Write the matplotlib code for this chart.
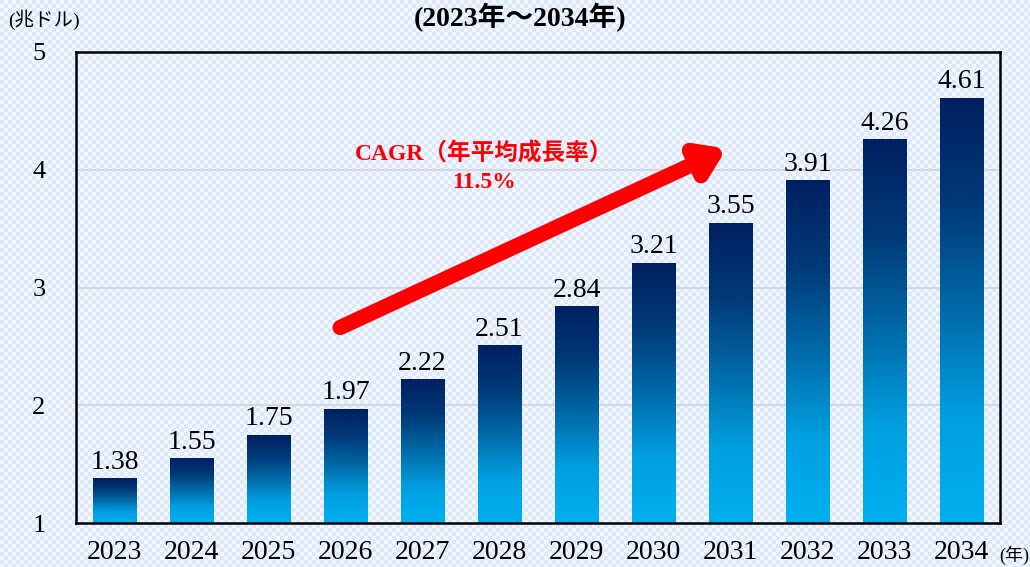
import numpy as np
import matplotlib.pyplot as plt
from matplotlib.colors import LinearSegmentedColormap

years = ["2023", "2024", "2025", "2026", "2027", "2028",
         "2029", "2030", "2031", "2032", "2033", "2034"]
values = [1.38, 1.55, 1.75, 1.97, 2.22, 2.51, 2.84, 3.21, 3.55, 3.91, 4.26, 4.61]
title = "(2023年～2034年)"
unit_label = "(兆ドル)"
year_label = "(年)"
cagr_text = "CAGR（年平均成長率）\n11.5%"

SERIF = ["Liberation Serif", "Noto Sans CJK JP"]
plt.rcParams["font.family"] = SERIF

fig = plt.figure(figsize=(10.3, 5.67), dpi=100)
W, H = 1030, 567

# checkered background over the whole figure
bg_ax = fig.add_axes([0, 0, 1, 1], zorder=0)
yy, xx = np.mgrid[0:H, 0:W]
check = ((xx // 4) + (yy // 4)) % 2
bg = np.empty((H, W, 3))
bg[check == 0] = [0.86, 0.91, 0.99]
bg[check == 1] = [0.95, 0.97, 1.0]
bg_ax.imshow(bg, aspect="auto", interpolation="nearest")
bg_ax.axis("off")

ax = fig.add_axes([76 / W, 1 - 523 / H, 924 / W, 471 / H], zorder=1)
ax.patch.set_alpha(0)
ax.set_yticks([1, 2, 3, 4, 5])
ax.set_xticks(range(len(years)))
ax.set_xticklabels(years)
ax.tick_params(axis="x", length=0, labelsize=20, pad=12)
ax.tick_params(axis="y", length=0, labelsize=19, pad=22)
for s in ax.spines.values():
    s.set_linewidth(1.8)
    s.set_color("black")
for yv in [2, 3, 4]:
    ax.axhline(yv, color="#d4d8de", lw=1.5, zorder=1)

cmap = LinearSegmentedColormap.from_list(
    "bar", ["#00b0f0", "#009fe0", "#006aa8", "#003a78", "#002060"])
grad = np.linspace(0, 1, 256).reshape(-1, 1)
width = 0.57
bars = ax.bar(range(len(years)), [v - 1 for v in values], bottom=1,
              width=width, color="none", zorder=2)
for bar, v in zip(bars, values):
    x0 = bar.get_x()
    im = ax.imshow(grad, cmap=cmap, aspect="auto", origin="lower",
                   extent=[x0, x0 + width, 1, v], zorder=2)
    im.set_clip_path(bar)
    ax.text(bar.get_x() + width / 2, v + 0.03, f"{v:.2f}",
            ha="center", va="bottom", fontsize=20, zorder=3)
ax.set_xlim(-0.5, len(years) - 0.5)
ax.set_ylim(1, 5)

ax.annotate("", xy=(7.95, 4.18), xytext=(2.93, 2.66),
            arrowprops=dict(arrowstyle="-|>,head_length=1.5,head_width=1.0",
                            color="#ff0000", lw=11, shrinkA=0, shrinkB=0),
            zorder=4)
ax.text(4.8, 4.02, cagr_text, ha="center", va="center", color="#ff0000",
        fontsize=17, fontweight="bold", linespacing=1.4, zorder=4)

fig.text(520 / W, 1 - 17 / H, title, ha="center", va="center",
         fontsize=20, fontweight="bold", zorder=5)
fig.text(8 / W, 1 - 20 / H, unit_label, ha="left", va="center", fontsize=14,
         zorder=5)
fig.text(999 / W, 1 - 555 / H, year_label, ha="left", va="center",
         fontsize=13, zorder=5)

fig.savefig("out.png", dpi=100)
